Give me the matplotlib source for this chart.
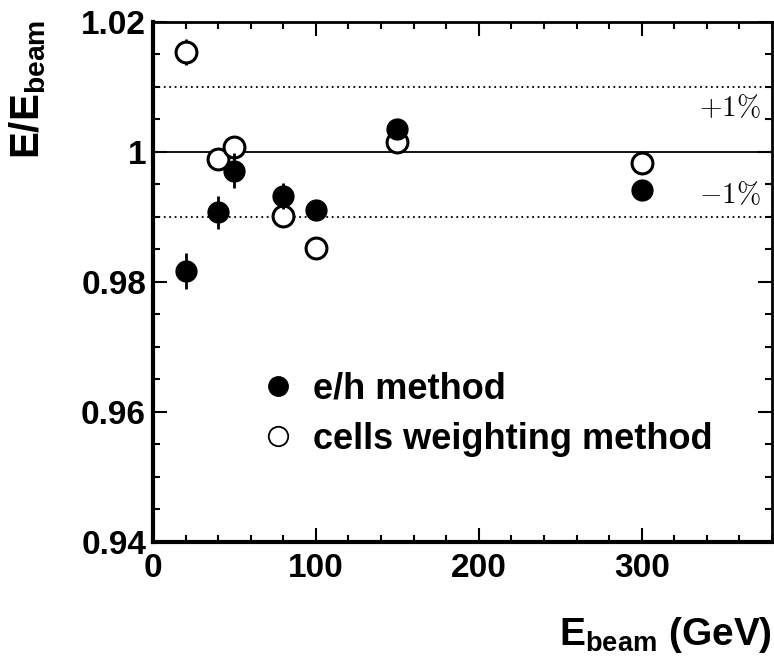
import matplotlib
matplotlib.use("Agg")
import matplotlib.pyplot as plt
from matplotlib.ticker import MultipleLocator
from matplotlib.lines import Line2D

plt.rcParams['font.family'] = ['Liberation Sans', 'DejaVu Sans']
plt.rcParams['mathtext.fontset'] = 'custom'
plt.rcParams['mathtext.rm'] = 'Liberation Sans'
plt.rcParams['mathtext.bf'] = 'Liberation Sans:bold'
plt.rcParams['mathtext.it'] = 'Liberation Sans:italic'

# Data
energy_eh = [20, 40, 50, 80, 100, 150, 300]
ratio_eh = [0.9817, 0.9907, 0.9971, 0.9932, 0.9911, 1.0036, 0.9942]
err_eh = [0.0027, 0.0026, 0.0027, 0.0020, 0.0015, 0.0010, 0.0008]

energy_cw = [20, 40, 50, 80, 100, 150, 300]
ratio_cw = [1.0154, 0.9990, 1.0007, 0.9902, 0.9852, 1.0016, 0.9983]
err_cw = [0.0020, 0.0010, 0.0017, 0.0010, 0.0010, 0.0010, 0.0008]

ref_line = 1.0
band = [0.99, 1.01]
band_labels = ['$-1\\%$', '$+1\\%$']
legend_labels = ['e/h method', 'cells weighting method']

fig = plt.figure(figsize=(7.74, 6.61), dpi=100)
ax = fig.add_axes([153/774, 1-542/661, 619/774, 520/661])

ax.set_xlim(0, 380)
ax.set_ylim(0.94, 1.02)

ax.axhline(ref_line, color='black', lw=1.3, zorder=1)
for b in band:
    ax.axhline(b, color='black', lw=1.3, ls=(0, (1, 2)), zorder=1)

ax.errorbar(energy_cw, ratio_cw, yerr=err_cw, fmt='o', ms=15, mfc='white',
            mec='black', mew=2.2, ecolor='black', elinewidth=2, capsize=0, zorder=3)
ax.errorbar(energy_eh, ratio_eh, yerr=err_eh, fmt='o', ms=15, mfc='black',
            mec='black', mew=1, ecolor='black', elinewidth=2, capsize=0, zorder=4)

ax.text(354, 1.0067, band_labels[1], fontsize=21, ha='center', va='center',
        family='DejaVu Serif', math_fontfamily='cm')
ax.text(354, 0.9934, band_labels[0], fontsize=21, ha='center', va='center',
        family='DejaVu Serif', math_fontfamily='cm')

ax.xaxis.set_major_locator(MultipleLocator(100))
ax.xaxis.set_minor_locator(MultipleLocator(20))
ax.yaxis.set_minor_locator(MultipleLocator(0.005))
ax.set_yticks([0.94, 0.96, 0.98, 1.0, 1.02])
ax.set_yticklabels(['0.94', '0.96', '0.98', '1', '1.02'])

ax.tick_params(which='both', direction='in', top=True, right=True, width=1.5)
ax.tick_params(which='major', length=10)
ax.tick_params(which='minor', length=5)
ax.tick_params(axis='x', which='major', labelsize=24, pad=8)
ax.tick_params(axis='y', which='major', labelsize=24, pad=5)
for lab in ax.get_xticklabels() + ax.get_yticklabels():
    lab.set_fontweight('bold')

for s in ['left', 'bottom']:
    ax.spines[s].set_linewidth(3)
for s in ['top', 'right']:
    ax.spines[s].set_linewidth(2)

handles = [Line2D([], [], marker='o', ls='none', ms=14, mfc='black', mec='black'),
           Line2D([], [], marker='o', ls='none', ms=14, mfc='white', mec='black', mew=1.3)]
leg = ax.legend(handles, legend_labels, loc='center left',
                bbox_to_anchor=(0.121, 0.246), frameon=False,
                prop={'size': 26, 'weight': 'bold'}, handletextpad=0.45,
                labelspacing=0.42, handlelength=1.0)

fig.text(28/774, 1-20/661, r'$\mathbf{E/E_{beam}}$', rotation=90, fontsize=29,
         ha='center', va='top')
fig.text(772/774, 1-645/661, r'$\mathbf{E_{beam}}$ (GeV)', fontsize=28,
         ha='right', va='baseline', fontweight='bold')

fig.savefig('out.png', dpi=100)
